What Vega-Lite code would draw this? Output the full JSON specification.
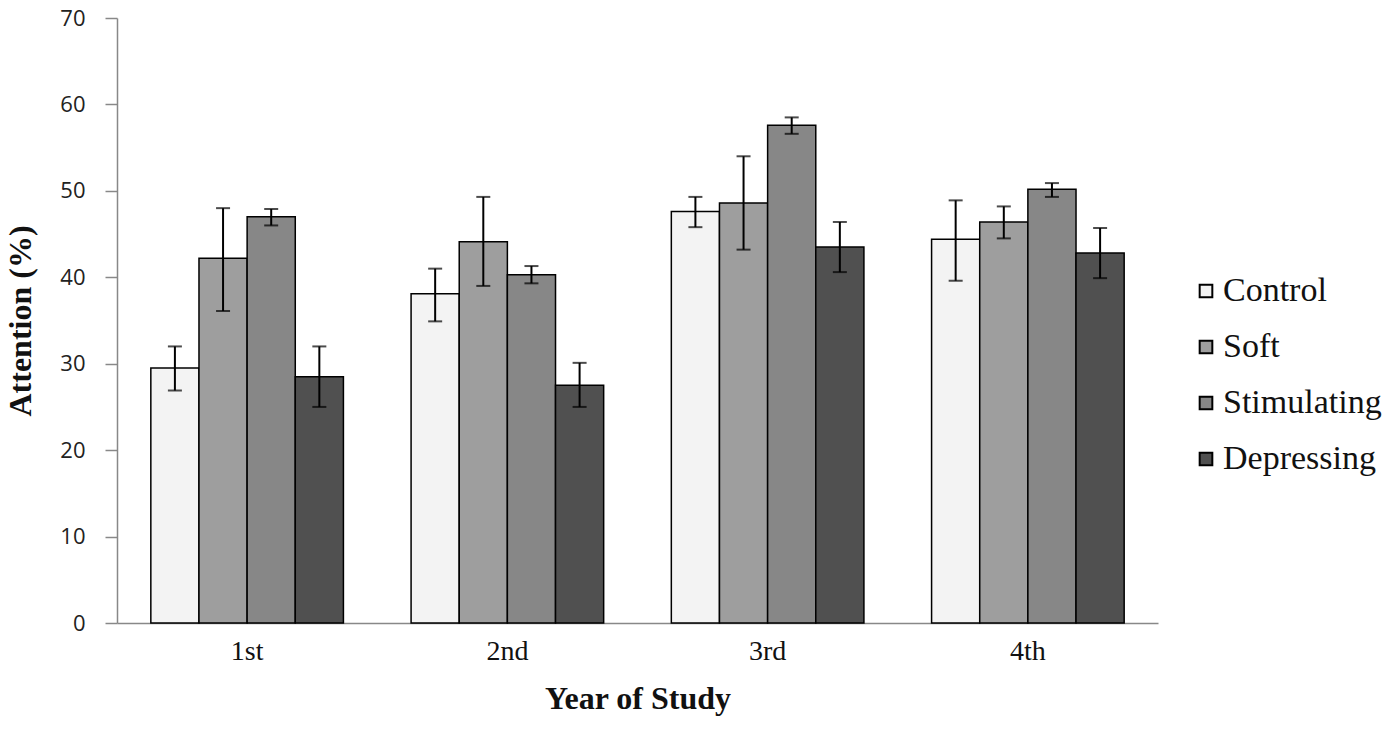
{
  "$schema": "https://vega.github.io/schema/vega-lite/v6.json",
  "width": 1041,
  "height": 605,
  "autosize": {"type": "none"},
  "padding": {"left": 117, "top": 18, "right": 242, "bottom": 113},
  "background": "white",
  "data": {
    "values": [
      {"year": "1st", "group": "Control", "value": 29.5, "lo": 26.9, "hi": 32.0},
      {"year": "1st", "group": "Soft", "value": 42.2, "lo": 36.1, "hi": 48.0},
      {"year": "1st", "group": "Stimulating", "value": 47.0, "lo": 46.0, "hi": 47.9},
      {"year": "1st", "group": "Depressing", "value": 28.5, "lo": 25.0, "hi": 32.0},
      {"year": "2nd", "group": "Control", "value": 38.1, "lo": 34.9, "hi": 41.0},
      {"year": "2nd", "group": "Soft", "value": 44.1, "lo": 39.0, "hi": 49.3},
      {"year": "2nd", "group": "Stimulating", "value": 40.3, "lo": 39.3, "hi": 41.3},
      {"year": "2nd", "group": "Depressing", "value": 27.5, "lo": 25.0, "hi": 30.1},
      {"year": "3rd", "group": "Control", "value": 47.6, "lo": 45.8, "hi": 49.3},
      {"year": "3rd", "group": "Soft", "value": 48.6, "lo": 43.2, "hi": 54.0},
      {"year": "3rd", "group": "Stimulating", "value": 57.6, "lo": 56.6, "hi": 58.5},
      {"year": "3rd", "group": "Depressing", "value": 43.5, "lo": 40.6, "hi": 46.4},
      {"year": "4th", "group": "Control", "value": 44.4, "lo": 39.6, "hi": 48.9},
      {"year": "4th", "group": "Soft", "value": 46.4, "lo": 44.5, "hi": 48.2},
      {"year": "4th", "group": "Stimulating", "value": 50.2, "lo": 49.3, "hi": 50.9},
      {"year": "4th", "group": "Depressing", "value": 42.8, "lo": 39.9, "hi": 45.7}
    ]
  },
  "encoding": {
    "x": {
      "field": "year",
      "type": "nominal",
      "sort": ["1st", "2nd", "3rd", "4th"],
      "scale": {"paddingInner": 0.26, "paddingOuter": 0.13},
      "axis": {
        "title": "Year of Study",
        "titleFont": "Liberation Serif",
        "titleFontSize": 32,
        "titleFontWeight": "bold",
        "titleColor": "#111",
        "titlePadding": 18,
        "labelFont": "Liberation Serif",
        "labelFontSize": 28,
        "labelColor": "#111",
        "labelPadding": 14,
        "labelAngle": 0,
        "ticks": false,
        "domainColor": "#888",
        "domainWidth": 1.5
      }
    },
    "xOffset": {
      "field": "group",
      "type": "nominal",
      "sort": ["Control", "Soft", "Stimulating", "Depressing"],
      "scale": {"paddingInner": 0, "paddingOuter": 0}
    }
  },
  "layer": [
    {
      "mark": {"type": "bar", "stroke": "black", "strokeWidth": 1.5},
      "encoding": {
        "y": {
          "field": "value",
          "type": "quantitative",
          "scale": {"domain": [0, 70], "nice": false},
          "axis": {
            "title": "Attention (%)",
            "titleFont": "Liberation Serif",
            "titleFontSize": 32,
            "titleFontWeight": "bold",
            "titleColor": "#111",
            "titlePadding": 22,
            "labelFont": "Open Sans",
            "labelFontSize": 22,
            "labelColor": "#222",
            "labelPadding": 20,
            "labelOverlap": false,
            "labelFlush": false,
            "values": [0, 10, 20, 30, 40, 50, 60, 70],
            "tickSize": 12,
            "tickColor": "#888",
            "tickWidth": 1.5,
            "domainColor": "#888",
            "domainWidth": 1.5,
            "grid": false
          }
        },
        "color": {
          "field": "group",
          "type": "nominal",
          "sort": ["Control", "Soft", "Stimulating", "Depressing"],
          "scale": {
            "domain": ["Control", "Soft", "Stimulating", "Depressing"],
            "range": ["#f3f3f3", "#9e9e9e", "#878787", "#505050"]
          },
          "legend": {
            "title": null,
            "orient": "none",
            "legendX": 1072,
            "legendY": 256,
            "symbolType": "square",
            "symbolSize": 160,
            "symbolStrokeColor": "black",
            "symbolStrokeWidth": 2,
            "labelFont": "Liberation Serif",
            "labelFontSize": 34,
            "labelColor": "#111",
            "labelOffset": 0,
            "rowPadding": 22,
            "labelLimit": 300
          }
        }
      }
    },
    {
      "mark": {"type": "rule", "color": "black", "strokeWidth": 2},
      "encoding": {
        "y": {"field": "lo", "type": "quantitative"},
        "y2": {"field": "hi"}
      }
    },
    {
      "mark": {"type": "tick", "color": "black", "size": 14, "thickness": 2},
      "encoding": {
        "y": {"field": "lo", "type": "quantitative"}
      }
    },
    {
      "mark": {"type": "tick", "color": "black", "size": 14, "thickness": 2},
      "encoding": {
        "y": {"field": "hi", "type": "quantitative"}
      }
    }
  ],
  "config": {
    "view": {"stroke": null}
  }
}
